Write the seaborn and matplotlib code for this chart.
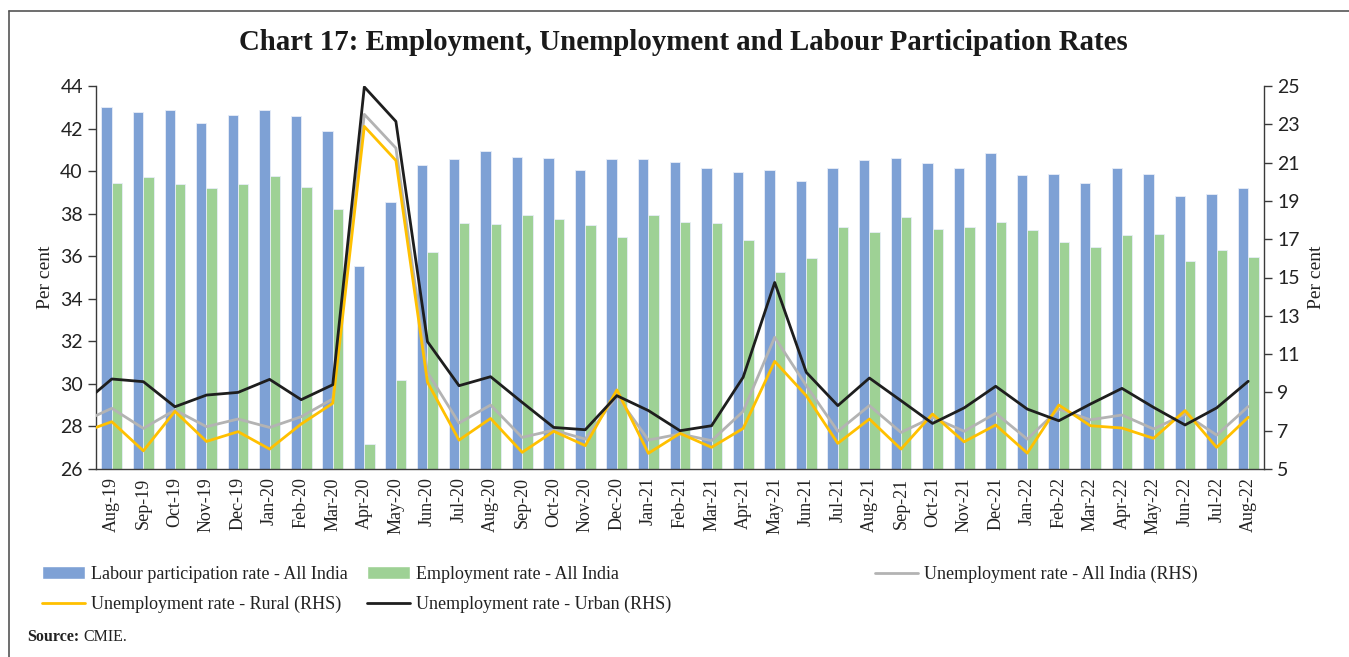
import pandas as pd
import matplotlib.pyplot as plt
import seaborn as sns
import numpy as np
from matplotlib.lines import Line2D
from matplotlib.patches import Patch

# Monthly data, Aug-19 to Aug-22
months = ['Aug-19', 'Sep-19', 'Oct-19', 'Nov-19', 'Dec-19', 'Jan-20', 'Feb-20', 'Mar-20',
          'Apr-20', 'May-20', 'Jun-20', 'Jul-20', 'Aug-20', 'Sep-20', 'Oct-20', 'Nov-20',
          'Dec-20', 'Jan-21', 'Feb-21', 'Mar-21', 'Apr-21', 'May-21', 'Jun-21', 'Jul-21',
          'Aug-21', 'Sep-21', 'Oct-21', 'Nov-21', 'Dec-21', 'Jan-22', 'Feb-22', 'Mar-22',
          'Apr-22', 'May-22', 'Jun-22', 'Jul-22', 'Aug-22']

lpr = [43.0, 42.79, 42.87, 42.28, 42.65, 42.87, 42.57, 41.88, 35.55, 38.54, 40.27,
       40.58, 40.94, 40.66, 40.60, 40.06, 40.55, 40.58, 40.41, 40.16, 39.97, 40.03, 39.55,
       40.16, 40.50, 40.63, 40.39, 40.16, 40.83, 39.83, 39.86, 39.42, 40.16, 39.88, 38.81,
       38.94, 39.22]
emp = [39.45, 39.74, 39.41, 39.22, 39.39, 39.77, 39.27, 38.21, 27.19, 30.17, 36.19,
       37.57, 37.52, 37.96, 37.74, 37.45, 36.88, 37.93, 37.63, 37.54, 36.77, 35.27, 35.93,
       37.35, 37.12, 37.85, 37.26, 37.37, 37.59, 37.21, 36.65, 36.44, 37.02, 37.05, 35.77,
       36.27, 35.96]

# unemployment series start one month earlier (Jul-19), clipped at the axis edge
line_months = ['Jul-19'] + months
ur_all = [7.41, 8.17, 7.12, 8.08, 7.21, 7.61, 7.17, 7.73, 8.66, 23.52, 21.76, 10.05,
          7.40, 8.34, 6.65, 7.03, 6.56, 8.83, 6.51, 6.83, 6.48, 8.01, 11.88, 9.35, 6.97, 8.31,
          6.91, 7.70, 6.97, 7.91, 6.56, 8.13, 7.57, 7.82, 7.09, 7.87, 6.77, 8.26]
ur_rural = [6.87, 7.47, 5.95, 8.01, 6.44, 6.95, 6.04, 7.35, 8.43, 22.89, 21.11, 9.53,
            6.51, 7.64, 5.87, 6.97, 6.22, 9.13, 5.82, 6.86, 6.13, 7.12, 10.62, 8.83, 6.34, 7.61,
            6.04, 7.87, 6.42, 7.30, 5.83, 8.34, 7.26, 7.14, 6.60, 8.05, 6.13, 7.70]
ur_urban = [8.30, 9.70, 9.56, 8.25, 8.86, 9.00, 9.68, 8.62, 9.40, 24.95, 23.15, 11.65,
            9.35, 9.82, 8.48, 7.17, 7.05, 8.83, 8.05, 7.00, 7.26, 9.79, 14.74, 10.05, 8.31, 9.75,
            8.57, 7.38, 8.19, 9.32, 8.13, 7.52, 8.39, 9.21, 8.22, 7.30, 8.19, 9.58]

bar_names = ['Labour participation rate - All India', 'Employment rate - All India']
line_names = ['Unemployment rate - All India (RHS)', 'Unemployment rate - Rural (RHS)',
              'Unemployment rate - Urban (RHS)']
bar_colors = ['#7EA1D5', '#9ED195']
line_colors = ['#B3B3B3', '#FFC000', '#1E1E1E']

bars = pd.DataFrame({'month': months * 2,
                     'value': lpr + emp,
                     'series': [bar_names[0]] * len(months) + [bar_names[1]] * len(months)})
pos = list(range(-1, len(months)))
lines = pd.DataFrame({'pos': pos * 3,
                      'value': ur_all + ur_rural + ur_urban,
                      'series': [n for n in line_names for _ in pos]})

sns.set_style('white')
serif = ['Liberation Serif', 'DejaVu Serif']
num_font = 'Lato'

fig = plt.figure(figsize=(13.49, 6.57), dpi=100)
ax = fig.add_axes([96 / 1349, 1 - 469 / 657, (1264 - 96) / 1349, (469 - 86) / 657])

sns.barplot(data=bars, x='month', y='value', hue='series', order=months,
            hue_order=bar_names, palette=bar_colors, width=0.66, saturation=1,
            errorbar=None, edgecolor='#E8EEF8', linewidth=0.6, legend=False, ax=ax)
ax.set_ylim(26, 44)
ax.set_yticks(range(26, 45, 2))

ax2 = ax.twinx()
sns.lineplot(data=lines, x='pos', y='value', hue='series', hue_order=line_names,
             palette=line_colors, linewidth=2.0, legend=False, ax=ax2)
ax2.set_ylim(5, 25)
ax2.set_yticks(range(5, 26, 2))
ax.set_xlim(-0.5, len(months) - 0.5)

# axes styling
spine_col = '#3A3A3A'
for a in (ax, ax2):
    a.spines['top'].set_visible(False)
    for s in a.spines.values():
        s.set_color(spine_col)
        s.set_linewidth(1.0)
ax.spines['right'].set_visible(False)
ax2.spines['left'].set_visible(False)
ax2.spines['bottom'].set_visible(False)

ax.set_xticks(range(len(months)))
ax.set_xticklabels(months, rotation=90, fontsize=13, family=serif, color='#222222')
ax.set_xticks(np.arange(-0.5, len(months), 1), minor=True)
ax.tick_params(axis='x', which='major', length=0, pad=6)
ax.tick_params(axis='x', which='minor', length=6, width=1, color=spine_col, direction='out')
ax.tick_params(axis='y', length=6, width=1, color=spine_col, direction='out', left=True,
               labelsize=14, labelcolor='#222222')
ax2.tick_params(axis='y', length=6, width=1, color=spine_col, direction='out', right=True,
                labelsize=14, labelcolor='#222222')
for t in ax.get_yticklabels() + ax2.get_yticklabels():
    t.set_family(num_font)

ax.set_xlabel('')
ax.set_ylabel('Per cent', fontsize=14, family=serif, color='#222222', labelpad=4)
ax2.set_ylabel('Per cent', fontsize=14, family=serif, color='#222222', labelpad=6)

fig.text(683 / 1349, 1 - 42 / 657,
         'Chart 17: Employment, Unemployment and Labour Participation Rates',
         ha='center', va='center', fontsize=20.8, fontweight='bold', family=serif,
         color='#1A1A1A')

# legend, laid out in three columns as in the original
handles = [Patch(facecolor=bar_colors[0]), Patch(facecolor=bar_colors[1]),
           Line2D([], [], color=line_colors[0], lw=2), Line2D([], [], color=line_colors[1], lw=2),
           Line2D([], [], color=line_colors[2], lw=2)]
labels = bar_names + line_names
columns = [([0, 3], 42), ([1, 4], 367), ([2], 875)]
for idx, x0 in columns:
    leg = fig.legend([handles[i] for i in idx], [labels[i] for i in idx],
                     loc='upper left', bbox_to_anchor=(x0 / 1349, 1 - 566 / 657),
                     frameon=False, handlelength=2.4, handleheight=0.75, handletextpad=0.3,
                     labelspacing=0.72, borderaxespad=0, borderpad=0,
                     prop={'family': serif, 'size': 13})
    for t in leg.get_texts():
        t.set_color('#222222')

fig.text(27 / 1349, 1 - 637 / 657, 'Source:', fontsize=11.5, fontweight='bold',
         family=serif, va='center', color='#222222')
fig.text(83 / 1349, 1 - 637 / 657, 'CMIE.', fontsize=11.5, family=serif, va='center',
         color='#222222')

# frame lines (top and left) around the chart
fig.add_artist(Line2D([9 / 1349, 9 / 1349], [0, 1 - 11 / 657], color='#555555', lw=1.2))
fig.add_artist(Line2D([9 / 1349, 1], [1 - 11 / 657, 1 - 11 / 657], color='#555555', lw=1.2))

fig.savefig('out.png', dpi=100)
